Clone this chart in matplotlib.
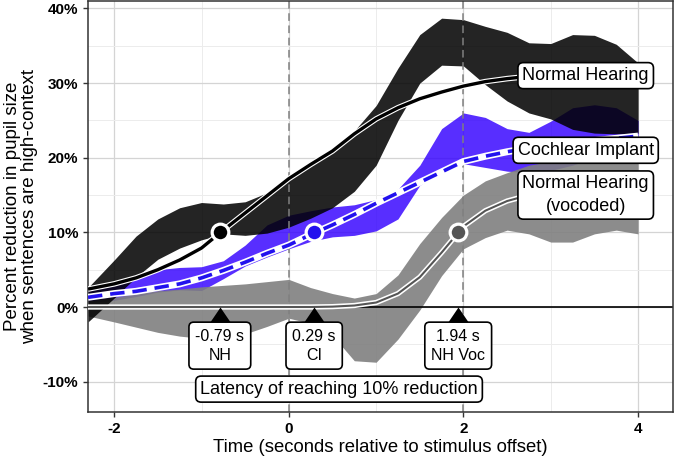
import matplotlib
matplotlib.use("Agg")
import matplotlib.pyplot as plt
import numpy as np

plt.rcParams['font.family'] = ['Liberation Sans', 'DejaVu Sans']

# time grid (seconds relative to stimulus offset)
t = [-2.3, -2.0, -1.75, -1.5, -1.25, -1.0, -0.75, -0.5, -0.25, 0.0, 0.25, 0.5, 0.75,
     1.0, 1.25, 1.5, 1.75, 2.0, 2.25, 2.5, 2.75, 3.0, 3.25, 3.5, 3.75, 4.0]

# Normal Hearing
nh_fit = [2.4, 3.1, 3.9, 5.0, 6.3, 7.9, 10.3, 12.6, 14.9, 17.2, 19.1, 20.9, 23.2,
          25.2, 26.7, 27.9, 28.8, 29.6, 30.2, 30.6, 30.9, 31.2, 31.4, 31.5, 31.6, 31.7]
nh_hi = [2.6, 6.3, 9.5, 11.8, 13.3, 14.0, 13.8, 14.1, 15.3, 17.5, 19.4, 21.2, 23.6,
         27.0, 32.0, 36.5, 38.7, 38.5, 37.6, 36.8, 35.4, 35.3, 36.5, 36.4, 35.2, 32.7]
nh_lo = [-2.0, 1.2, 4.0, 6.4, 7.9, 9.0, 9.8, 9.6, 9.9, 10.7, 11.9, 13.3, 15.5,
         19.0, 25.0, 30.0, 32.4, 32.3, 29.8, 27.6, 26.0, 25.2, 23.8, 23.3, 23.2, 23.3]

# Cochlear Implant
ci_fit = [1.3, 1.8, 2.1, 2.6, 3.1, 3.9, 4.9, 6.0, 7.2, 8.3, 9.7, 11.0, 12.4,
          13.9, 15.3, 16.7, 18.1, 19.5, 20.2, 20.8, 21.3, 21.7, 22.0, 22.3, 22.6, 22.9]
ci_hi = [2.6, 3.4, 4.3, 5.0, 5.3, 5.4, 6.2, 8.3, 11.0, 12.3, 12.9, 13.4, 13.7,
         14.4, 15.8, 19.0, 23.9, 26.0, 25.4, 23.9, 23.4, 24.9, 26.7, 27.1, 26.7, 25.0]
ci_lo = [0.6, 0.9, 1.4, 2.0, 2.3, 2.2, 3.8, 5.5, 6.7, 7.8, 8.8, 9.4, 9.6,
         10.2, 11.8, 16.3, 18.2, 19.2, 18.7, 18.2, 18.0, 18.3, 19.0, 20.0, 20.8, 21.3]

# Normal Hearing (vocoded)
voc_fit = [0.0, 0.0, 0.0, 0.0, 0.0, 0.0, 0.0, 0.0, 0.0, 0.0, 0.0, 0.05, 0.2,
           0.6, 1.8, 4.0, 7.3, 10.8, 12.9, 14.2, 15.0, 15.5, 15.8, 16.0, 16.1, 16.2]
voc_hi = [0.8, 1.3, 1.8, 2.2, 2.4, 2.7, 2.9, 3.1, 3.4, 3.7, 2.6, 1.8, 1.2,
          1.8, 4.3, 8.5, 12.0, 15.0, 16.9, 18.0, 19.0, 19.5, 19.8, 20.0, 19.8, 19.5]
voc_lo = [-1.2, -2.0, -2.7, -3.4, -3.9, -4.2, -4.3, -3.6, -2.6, -1.5, -2.2, -3.8, -7.2,
          -7.4, -4.3, -0.4, 4.2, 7.8, 9.3, 10.3, 9.8, 8.7, 8.7, 9.8, 10.3, 9.8]

# latency of reaching 10% reduction
latency = [-0.79, 0.29, 1.94]
latency_groups = ['NH', 'CI', 'NH Voc']
threshold = 10

group_names = ['Normal Hearing', 'Cochlear Implant', 'Normal Hearing\n(vocoded)']
label_x = [3.4, 3.4, 3.4]
label_y = [31, 21, 15]

nh_col = '#000000'
ci_col = '#2211ee'
voc_col = '#555555'

fig = plt.figure(figsize=(6.75, 4.59), dpi=100)
ax = fig.add_axes([88 / 675, 1 - 411.5 / 459, 585 / 675, 410.5 / 459])

ax.set_xlim(-2.3, 4.4)
ax.set_ylim(-14, 41)

# grid
ax.set_xticks([-2, 0, 2, 4])
ax.set_xticklabels(['-2', '0', '2', '4'])
ax.set_xticks([-1, 1, 3], minor=True)
ax.set_yticks([-10, 0, 10, 20, 30, 40])
ax.set_yticklabels(['-10%', '0%', '10%', '20%', '30%', '40%'])
ax.set_yticks([-5, 5, 15, 25, 35], minor=True)
ax.grid(True, which='major', color='#d4d4d4', lw=0.9, zorder=0)
ax.grid(True, which='minor', color='#ececec', lw=0.7, zorder=0)
ax.set_axisbelow(True)

# ribbons
ax.fill_between(t, ci_lo, ci_hi, color='#3300ff', alpha=0.82, lw=0, zorder=1)
ax.fill_between(t, voc_lo, voc_hi, color='#808080', alpha=0.9, lw=0, zorder=1.1)
ax.fill_between(t, nh_lo, nh_hi, color='#000000', alpha=0.86, lw=0, zorder=1.2)

# reference lines
for xv in [0, 2]:
    ax.axvline(xv, color='#808080', lw=1.1, ls=(0, (5, 3)), zorder=2)
ax.axhline(0, color='black', lw=1.2, zorder=2.5)

# fitted curves with white outline
ax.plot(t, voc_fit, color='white', lw=3.8, solid_capstyle='butt', zorder=3)
ax.plot(t, voc_fit, color=voc_col, lw=1.5, solid_capstyle='butt', zorder=3.1)
ax.plot(t, ci_fit, color='white', lw=5.0, solid_capstyle='butt', zorder=3.2)
ax.plot(t, ci_fit, color=ci_col, lw=2.6, dashes=(4, 2.2), zorder=3.3)
ax.plot(t, nh_fit, color='white', lw=4.0, solid_capstyle='butt', zorder=3.4)
ax.plot(t, nh_fit, color=nh_col, lw=2.4, solid_capstyle='butt', zorder=3.5)

# threshold crossing points
for xv, c in zip(latency, [nh_col, ci_col, voc_col]):
    ax.plot([xv], [threshold], marker='o', ms=12, mfc=c, mec='white', mew=2.3, zorder=5)

# latency markers on the x axis
tri = [(0, 0), (-0.68, -1), (0.68, -1), (0, 0)]
for xv, g in zip(latency, latency_groups):
    ax.plot([xv], [0], marker=tri, ms=22, color='black', mew=0, zorder=6)
    ax.annotate(f'{xv:.2f} s\n{g}', xy=(xv, 0), xytext=(0, -15.5), textcoords='offset points',
                ha='center', va='top', fontsize=11.5, linespacing=1.35, zorder=7,
                bbox=dict(boxstyle='round,pad=0.4,rounding_size=0.3', fc='white',
                          ec='black', lw=1.2))

ax.text(np.mean([latency[0], latency[2]]), -11, 'Latency of reaching 10% reduction',
        ha='center', va='center', fontsize=13, zorder=7,
        bbox=dict(boxstyle='round,pad=0.25,rounding_size=0.3', fc='white', ec='black', lw=1.2))

# group labels
for name, lx, ly in zip(group_names, label_x, label_y):
    ax.text(lx, ly, name, ha='center', va='center', fontsize=13, linespacing=1.4, zorder=7,
            bbox=dict(boxstyle='round,pad=0.25,rounding_size=0.3', fc='white', ec='black', lw=1.2))

for s in ax.spines.values():
    s.set_color('#333333')
    s.set_linewidth(1.1)
ax.tick_params(which='major', length=3.5, width=1, color='#333333', labelsize=11)
ax.tick_params(axis='x', which='major', pad=4)
ax.tick_params(axis='y', which='major', pad=3.5)
ax.tick_params(which='minor', length=0)
for lab in ax.get_xticklabels() + ax.get_yticklabels():
    lab.set_fontweight('bold')

ax.set_xlabel('Time (seconds relative to stimulus offset)', fontsize=13.3, labelpad=2.5)
ax.set_ylabel('Percent reduction in pupil size\nwhen sentences are high-context',
              fontsize=13.5, labelpad=3, linespacing=1.0)

fig.savefig('out.png', dpi=100)
